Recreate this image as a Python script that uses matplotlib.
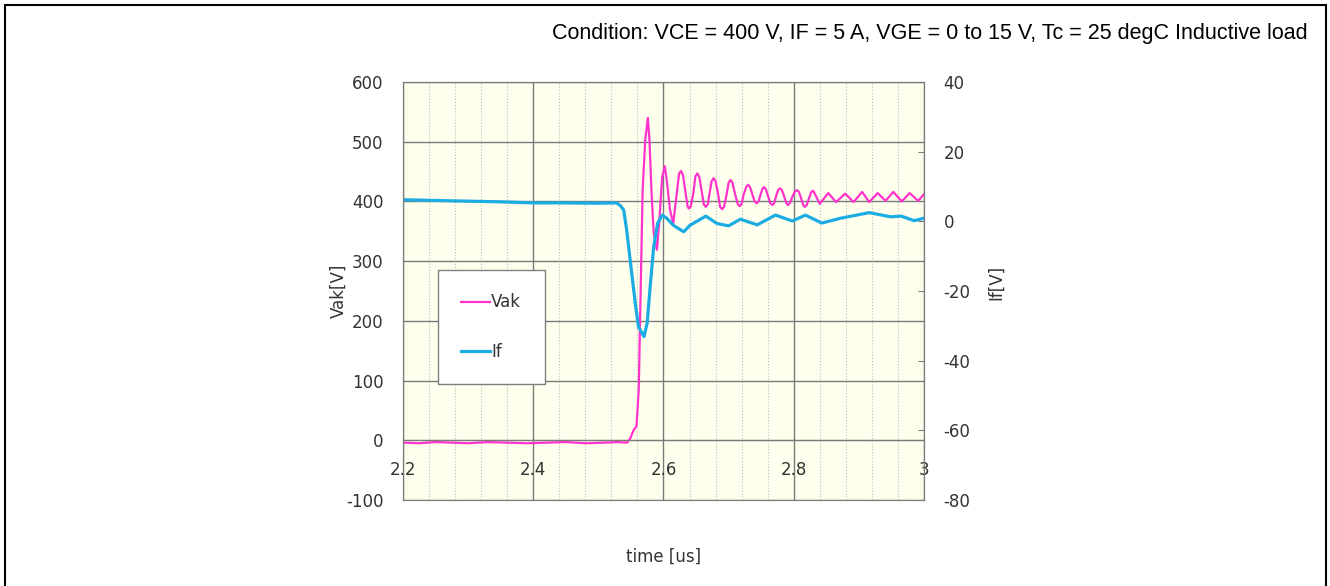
import matplotlib.pyplot as plt
from matplotlib.ticker import MultipleLocator
import numpy as np

# Vak waveform [V] vs time [us]
t_vak = [2.200, 2.225, 2.250, 2.275, 2.300, 2.330, 2.360, 2.390, 2.420, 2.450, 2.480, 2.510, 2.530, 2.544,
         2.549, 2.554, 2.5585, 2.562, 2.565, 2.568, 2.572, 2.576, 2.5785, 2.5815, 2.585, 2.590, 2.594, 2.598,
         2.602, 2.605, 2.610, 2.615, 2.621, 2.624, 2.627, 2.630, 2.634, 2.637, 2.639, 2.642, 2.646, 2.649,
         2.652, 2.655, 2.659, 2.662, 2.665, 2.668, 2.671, 2.674, 2.677, 2.680, 2.684, 2.687, 2.690, 2.693,
         2.697, 2.700, 2.703, 2.706, 2.710, 2.714, 2.717, 2.720, 2.723, 2.727, 2.730, 2.733, 2.737, 2.740,
         2.743, 2.746, 2.749, 2.752, 2.754, 2.757, 2.761, 2.764, 2.767, 2.770, 2.773, 2.776, 2.779, 2.782,
         2.786, 2.789, 2.791, 2.794, 2.798, 2.802, 2.805, 2.808, 2.812, 2.815, 2.817, 2.820, 2.824, 2.827,
         2.830, 2.840, 2.853, 2.865, 2.879, 2.892, 2.905, 2.916, 2.929, 2.941, 2.953, 2.966, 2.978, 2.991,
         3.000]
vak = [-4, -5, -3, -4, -5, -3, -4, -5, -4, -3, -5, -4, -3, -4,
       3, 17, 23, 84, 251, 419, 503, 540, 503, 419, 347, 319, 374, 441,
       459, 436, 386, 363, 419, 447, 451, 444, 414, 392, 388, 392, 415, 442,
       447, 441, 415, 395, 391, 395, 415, 434, 439, 434, 412, 391, 387, 391,
       412, 431, 436, 431, 412, 396, 392, 396, 411, 424, 428, 424, 410, 400,
       397, 400, 411, 421, 424, 421, 408, 397, 394, 397, 409, 419, 422, 419,
       406, 397, 394, 397, 408, 417, 419, 416, 403, 393, 391, 394, 407, 416,
       418, 396, 414, 399, 413, 399, 416, 399, 414, 401, 416, 400, 414, 401,
       412]

# If waveform [A] vs time [us]
t_if = [2.200, 2.250, 2.300, 2.350, 2.400, 2.450, 2.500, 2.528, 2.534, 2.539, 2.5435, 2.5513, 2.5574,
        2.5615, 2.570, 2.5749, 2.580, 2.585, 2.591, 2.598, 2.605, 2.615, 2.631, 2.641, 2.665, 2.682,
        2.700, 2.718, 2.744, 2.772, 2.798, 2.818, 2.843, 2.872, 2.916, 2.949, 2.965, 2.985, 3.000]
i_f = [6.2, 6.0, 5.8, 5.6, 5.3, 5.3, 5.2, 5.3, 4.5, 3.2, -2.5, -15.0, -24.5,
       -30.2, -33.1, -29.3, -17.8, -7.3, -0.6, 1.8, 0.9, -1.1, -3.0, -1.1, 1.5, -0.6,
       -1.3, 0.6, -1.0, 1.8, 0.1, 1.8, -0.5, 0.9, 2.5, 1.3, 1.5, 0.2, 0.9]

vak_ticks = [-100, 0, 100, 200, 300, 400, 500, 600]
if_ticks = [-80, -60, -40, -20, 0, 20, 40]
time_ticks = [2.2, 2.4, 2.6, 2.8, 3.0]
time_labels = ['2.2', '2.4', '2.6', '2.8', '3']

condition = 'Condition: VCE = 400 V, IF = 5 A, VGE = 0 to 15 V, Tc = 25 degC Inductive load'

plt.rcParams['font.family'] = 'DejaVu Sans'
plt.rcParams['axes.unicode_minus'] = False
txt_col = '#333333'
grid_col = '#7a7a7a'

fig = plt.figure(figsize=(13.3, 5.86), dpi=100)
ax = fig.add_axes([0.303, 0.1468, 0.3917, 0.7132])
ax.set_facecolor('#FFFFEE')

#! left axis (Vak)
ax.plot(t_vak, vak, color='#FF33CC', linewidth=1.6, label='Vak')
ax.set_xlim(2.2, 3.0)
ax.set_ylim(-100, 600)
ax.set_yticks(vak_ticks)
ax.set_xticks(time_ticks)
ax.set_xticklabels(time_labels)
ax.xaxis.set_minor_locator(MultipleLocator(0.04))
ax.grid(which='major', color=grid_col, linewidth=1.0)
ax.grid(which='minor', axis='x', color='#bdbdbd', linewidth=0.8, linestyle=':')
ax.tick_params(axis='both', which='both', length=0, labelsize=12, labelcolor=txt_col)
ax.tick_params(axis='y', pad=14)
ax.tick_params(axis='x', pad=15)
ax.spines['bottom'].set_position(('data', 0))
for s in ax.spines.values():
    s.set_color(grid_col)
ax.set_ylabel('Vak[V]', fontsize=12, color=txt_col)
ax.yaxis.set_label_coords(-0.106, 0.5)
ax.set_xlabel('time [us]', fontsize=12, color=txt_col)
ax.xaxis.set_label_coords(0.5, -0.115)

#! right axis (If)
ax2 = ax.twinx()
ax2.plot(t_if, i_f, color='#1AACE3', linewidth=2.3, label='If')
ax2.set_ylim(-80, 40)
ax2.set_yticks(if_ticks)
ax2.tick_params(axis='y', direction='in', length=4, color=grid_col, pad=14, labelsize=12, labelcolor=txt_col)
for s in ax2.spines.values():
    s.set_color(grid_col)
ax2.set_ylabel('If[V]', fontsize=12, color=txt_col)
ax2.yaxis.set_label_coords(1.121, 0.52)

h1, l1 = ax.get_legend_handles_labels()
h2, l2 = ax2.get_legend_handles_labels()
leg = ax2.legend(h1 + h2, l1 + l2, loc='upper left', bbox_to_anchor=(438 / 1330, 1 - 270 / 586),
                 bbox_transform=fig.transFigure, fontsize=12, frameon=True, fancybox=False,
                 framealpha=1, edgecolor='#7f7f7f', borderpad=1.4, labelspacing=1.9,
                 handlelength=1.7, handletextpad=0.1, borderaxespad=0)
leg.get_frame().set_linewidth(1.0)
for t in leg.get_texts():
    t.set_color(txt_col)

fig.text(1308 / 1330, 1 - 33 / 586, condition, ha='right', va='center',
         fontsize=15.5, family='Liberation Sans', color='black')

# outer frame
fig.add_artist(plt.Rectangle((5 / 1330, -0.02), 1321 / 1330, 1.02 - 5 / 586, transform=fig.transFigure,
                             fill=False, edgecolor='black', linewidth=1.5, clip_on=False))

plt.savefig('out.png', dpi=100)
